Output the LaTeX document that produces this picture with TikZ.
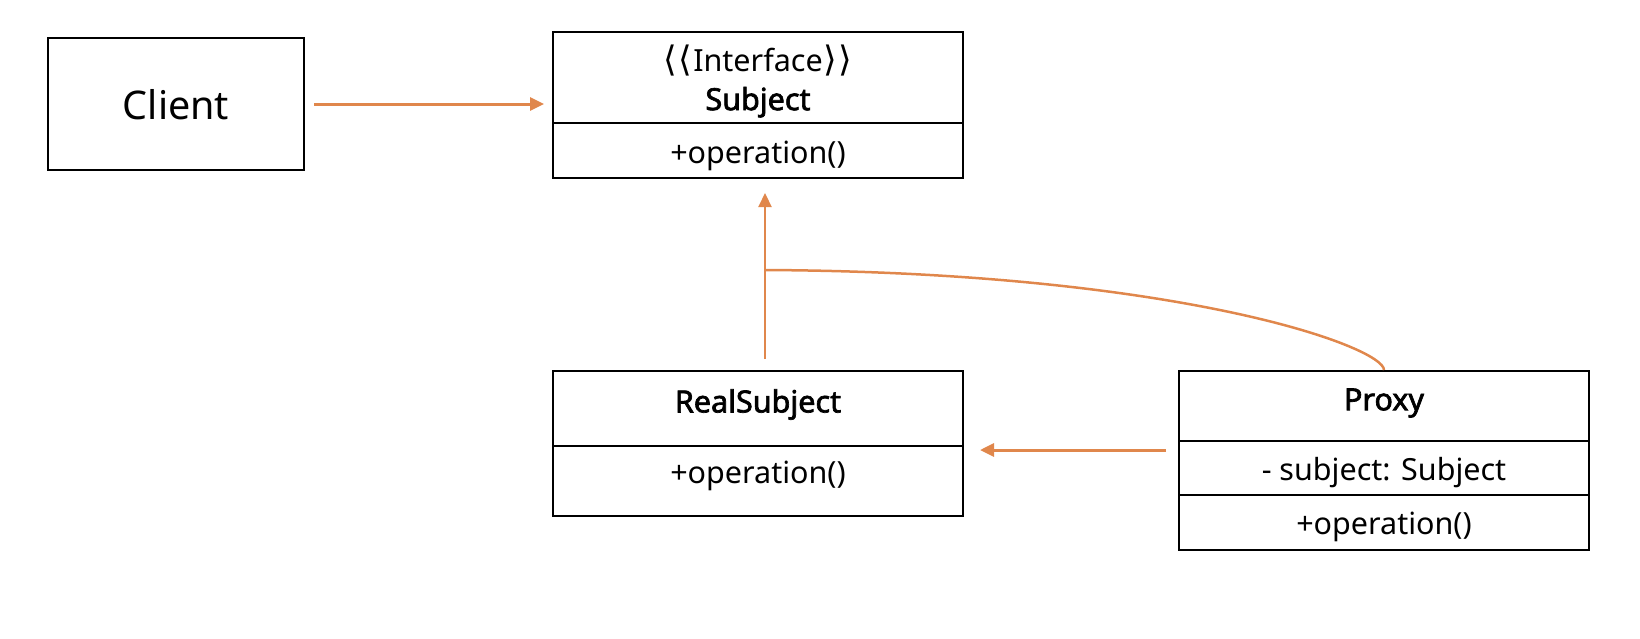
\documentclass[tikz,border=0pt]{standalone}
\usepackage{fontspec}
\setmainfont{Noto Sans}[AutoFakeBold=2.2]
\newfontfamily\dv{DejaVu Sans}
\usetikzlibrary{arrows.meta}
\definecolor{arrorange}{RGB}{224,135,76}
\newcommand{\rz}[2]{\raisebox{#1}[\height][\depth]{#2}}
\begin{document}
\begin{tikzpicture}[x=1pt,y=-1pt,
  box/.style={draw,line width=2pt,inner sep=0pt,anchor=north west,
    minimum width=410pt,align=center,font=\fontsize{30.5}{38}\selectfont},
  conn/.style={draw=arrorange,line width=2.5pt,-{Triangle[length=14pt,width=13pt]}},
  link/.style={draw=arrorange,line width=2.5pt}]
\useasboundingbox (0,0) rectangle (1640,638);
\node[box,minimum width=256pt,minimum height=132pt,font=\fontsize{39.5}{48}\selectfont] (client) at (47,37) {\rz{-1pt}{Client}};
\node[box,minimum height=91pt] (subjHead) at (552,31) {\rz{-3pt}{{\dv\fontsize{35}{38}\selectfont ⟨\kern1pt⟨}\kern1pt Interface\kern1pt{\dv\fontsize{35}{38}\selectfont ⟩\kern1pt⟩}}\\\rz{-4pt}{\textbf{Subject}}};
\node[box,minimum height=55pt] (subjOps) at (552,122) {\rz{-5pt}{+operation()}};
\node[box,minimum height=75pt] (realHead) at (552,370) {\rz{4pt}{\textbf{RealSubject}}};
\node[box,minimum height=70pt] (realOps) at (552,445) {\rz{5pt}{+operation()}};
\node[box,minimum height=70pt] (proxyHead) at (1178,370) {\rz{3pt}{\textbf{Proxy}}};
\node[box,minimum height=54pt] (proxyAttr) at (1178,440) {\rz{-5pt}{- subject: Subject}};
\node[box,minimum height=55pt] (proxyOps) at (1178,494) {\rz{-4pt}{+operation()}};
\draw[conn,line width=3pt,shorten <=9pt,shorten >=8pt] (client.east) -- (client.east -| subjHead.west);
\draw[conn,line width=2.2pt,shorten <=11pt,shorten >=14pt] ([xshift=7pt]realHead.north) -- ([xshift=7pt]subjOps.south);
\coordinate (j) at (764,270);
\draw[link] (j) .. controls (1180,272) and (1384,347) .. (proxyHead.north);
\draw[conn,line width=3pt,shorten <=12pt,shorten >=16pt] ([yshift=-8pt]proxyHead.south west) -- ([yshift=-8pt]proxyHead.south west -| realOps.east);
\end{tikzpicture}
\end{document}
